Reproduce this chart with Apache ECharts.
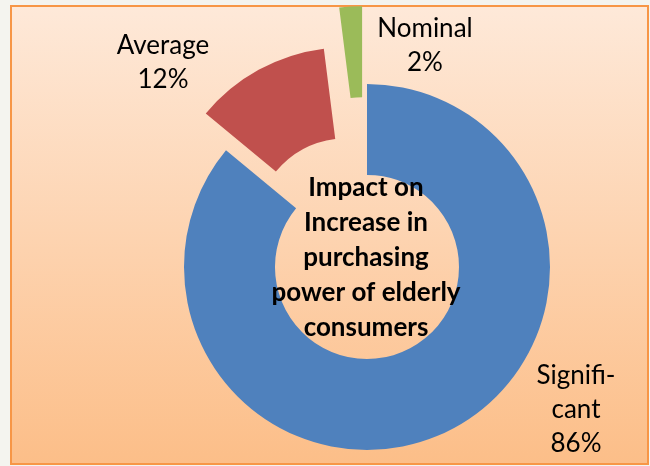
<!DOCTYPE html>
<html>
<head>
<meta charset="utf-8">
<script src="https://cdn.jsdelivr.net/npm/echarts@6/dist/echarts.min.js"></script>
<style>
  html, body { margin: 0; padding: 0; background: #f4f4ef; }
  #chart { width: 650px; height: 466px; }
</style>
</head>
<body>
<div id="chart"></div>
<script>
// data
var categories = ['Significant', 'Average', 'Nominal'];
var labelNames = ['Signifi-\ncant', 'Average', 'Nominal'];
var values = [86, 12, 2];
var centerTitle = 'Impact on\nIncrease in\npurchasing\npower of elderly\nconsumers';

// look
var colors = ['#4f81bd', '#c0504d', '#9bbb59'];
var explode = [0, 42, 78];            // how far each slice is pulled out
var labelAt = [[576, 410], [163, 63], [425, 46]];
var pieCenter = [367, 267];

var chart = echarts.init(document.getElementById('chart'));

// one pie per slice so every slice can be pulled out by its own distance
var series = categories.map(function (cat, i) {
    return {
        type: 'pie',
        center: pieCenter,
        radius: [92, 183],
        startAngle: 90,
        clockwise: true,
        avoidLabelOverlap: false,
        selectedMode: 'single',
        selectedOffset: explode[i],
        emphasis: { disabled: true },
        animation: false,
        itemStyle: { borderWidth: 0 },
        label: { show: false },
        labelLine: { show: false },
        data: categories.map(function (c, j) {
            return {
                name: c,
                value: values[j],
                selected: j === i && explode[i] > 0,
                itemStyle: { color: j === i ? colors[j] : 'rgba(0,0,0,0)' }
            };
        })
    };
});

// slice labels as text built from the arrays
var labels = categories.map(function (c, j) {
    return {
        type: 'text',
        z: 100,
        x: labelAt[j][0],
        y: labelAt[j][1],
        style: {
            text: labelNames[j] + '\n' + values[j] + '%',
            font: '26px Lato',
            fill: '#000',
            align: 'center',
            verticalAlign: 'middle',
            lineHeight: 34
        }
    };
});

var option = {
    backgroundColor: '#f4f4ef',
    graphic: [
        {
            type: 'rect',
            z: -10,
            silent: true,
            shape: { x: 11, y: 6, width: 637, height: 458 },
            style: {
                fill: new echarts.graphic.LinearGradient(0, 0, 0, 1, [
                    { offset: 0, color: '#fee9d9' },
                    { offset: 1, color: '#fcbe88' }
                ]),
                stroke: '#f79646',
                lineWidth: 2
            }
        },
        {
            type: 'text',
            z: 100,
            x: 366,
            y: 258,
            style: {
                text: centerTitle,
                font: 'bold 26px Lato',
                fill: '#000',
                align: 'center',
                verticalAlign: 'middle',
                lineHeight: 35
            }
        }
    ].concat(labels),
    series: series
};

chart.setOption(option);
</script>
</body>
</html>
